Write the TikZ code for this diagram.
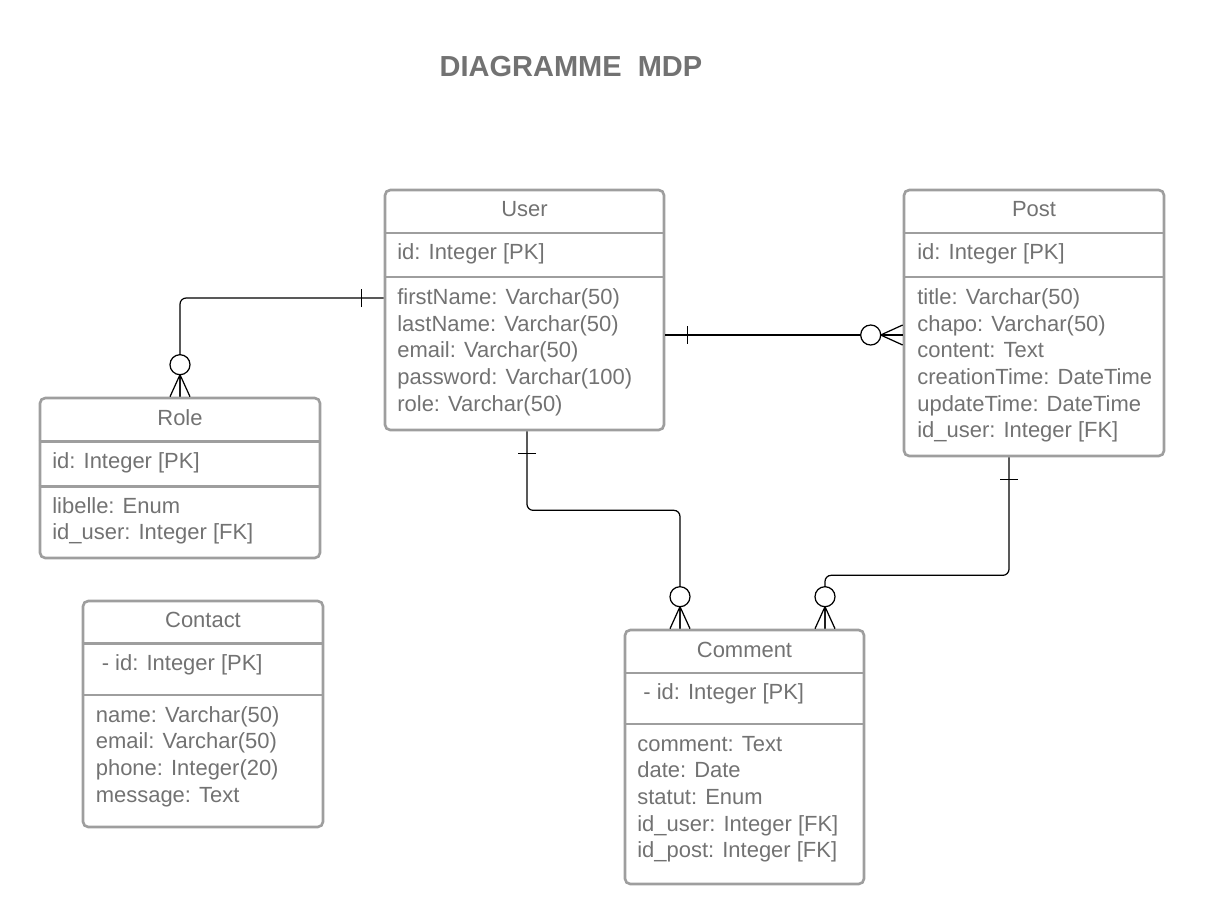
\documentclass[tikz,border=0pt]{standalone}
\usepackage{fontspec}
\setmainfont{Liberation Sans}

\definecolor{boxgray}{HTML}{9E9E9E}
\definecolor{txtgray}{HTML}{727272}

\tikzset{
  table/.style={draw=boxgray, line width=1.5pt, rounded corners=3pt, inner sep=0pt},
  rule/.style={draw=boxgray, line width=1.5pt},
  field/.style={anchor=base west, inner sep=0pt, text=txtgray, font=\fontsize{12.5}{15}\selectfont},
  head/.style={anchor=base, inner sep=0pt, text=txtgray, font=\fontsize{12.5}{15}\selectfont},
  conn/.style={line width=0.7pt, rounded corners=3.5pt},
  one/.pic={\draw[line width=0.7pt] (-9,-22) -- (9,-22);},
  many/.pic={\draw[line width=0.7pt] (-10,0) -- (0,-22) -- (10,0) (0,0) -- (0,-22);
             \draw[line width=0.7pt, fill=white] (0,-32) circle (5.7pt);}
}

\begin{document}
\begin{tikzpicture}[x=0.02cm, y=-0.02cm]
    \useasboundingbox (0,0) rectangle (1205,924);

    % title
    \node[anchor=base, inner sep=0pt, text=txtgray, font=\fontsize{16.5}{20}\selectfont\bfseries] (title) at (571,76) {DIAGRAMME\ \ MDP};

    % tables
    \node[table, minimum width=279*0.02cm, minimum height=240*0.02cm] (user) at (524.5,310) {};
    \node[table, minimum width=260*0.02cm, minimum height=266*0.02cm] (post) at (1034,323) {};
    \node[table, minimum width=280*0.02cm, minimum height=160*0.02cm] (role) at (180,478) {};
    \node[table, minimum width=240*0.02cm, minimum height=226*0.02cm] (contact) at (203,714) {};
    \node[table, minimum width=239*0.02cm, minimum height=254*0.02cm] (comment) at (744.5,757) {};

    \draw[rule] (user.west |- 0,233) -- (user.east |- 0,233);
    \draw[rule] (user.west |- 0,277) -- (user.east |- 0,277);
    \draw[rule] (post.west |- 0,233) -- (post.east |- 0,233);
    \draw[rule] (post.west |- 0,277) -- (post.east |- 0,277);
    \draw[rule] (role.west |- 0,441.5) -- (role.east |- 0,441.5);
    \draw[rule] (role.west |- 0,486.5) -- (role.east |- 0,486.5);
    \draw[rule] (contact.west |- 0,643.5) -- (contact.east |- 0,643.5);
    \draw[rule] (contact.west |- 0,695) -- (contact.east |- 0,695);
    \draw[rule] (comment.west |- 0,673) -- (comment.east |- 0,673);
    \draw[rule] (comment.west |- 0,724) -- (comment.east |- 0,724);

    % User
    \node[head] (user-name) at (524.5,216.5) {User};
    \node[field] (user-id) at (397,259) {id: Integer [PK]};
    \node[field] (user-a1) at (397,304.5) {firstName: Varchar(50)};
    \node[field] (user-a2) at (397,331.2) {lastName: Varchar(50)};
    \node[field] (user-a3) at (397,357.8) {email: Varchar(50)};
    \node[field] (user-a4) at (397,384.5) {password: Varchar(100)};
    \node[field] (user-a5) at (397,411.1) {role: Varchar(50)};

    % Post
    \node[head] (post-name) at (1034,216.5) {Post};
    \node[field] (post-id) at (917,259) {id: Integer [PK]};
    \node[field] (post-a1) at (917,304.5) {title: Varchar(50)};
    \node[field] (post-a2) at (917,331.2) {chapo: Varchar(50)};
    \node[field] (post-a3) at (917,357.8) {content: Text};
    \node[field] (post-a4) at (917,384.5) {creationTime: DateTime};
    \node[field] (post-a5) at (917,411.1) {updateTime: DateTime};
    \node[field] (post-a6) at (917,437.8) {id\_user: Integer [FK]};

    % Role
    \node[head] (role-name) at (180,425) {Role};
    \node[field] (role-id) at (52,468) {id: Integer [PK]};
    \node[field] (role-a1) at (52,513) {libelle: Enum};
    \node[field] (role-a2) at (52,539.7) {id\_user: Integer [FK]};

    % Contact
    \node[head] (contact-name) at (203,627) {Contact};
    \node[field] (contact-id) at (101.5,670) {- id: Integer [PK]};
    \node[field] (contact-a1) at (95.5,722) {name: Varchar(50)};
    \node[field] (contact-a2) at (95.5,748.7) {email: Varchar(50)};
    \node[field] (contact-a3) at (95.5,775.3) {phone: Integer(20)};
    \node[field] (contact-a4) at (95.5,802) {message: Text};

    % Comment
    \node[head] (comment-name) at (744.5,657) {Comment};
    \node[field] (comment-id) at (643,699.7) {- id: Integer [PK]};
    \node[field] (comment-a1) at (637,751) {comment: Text};
    \node[field] (comment-a2) at (637,777.7) {date: Date};
    \node[field] (comment-a3) at (637,804.3) {statut: Enum};
    \node[field] (comment-a4) at (637,831) {id\_user: Integer [FK]};
    \node[field] (comment-a5) at (637,857.6) {id\_post: Integer [FK]};

    % relations
    \draw[conn] (user.west |- 0,298) -| (role.north);
    \pic[rotate=90] at (user.west |- 0,298) {one};
    \pic at (role.north) {many};

    \draw[conn] (user.east |- 0,335) -- (post.west |- 0,335);
    \pic[rotate=-90] at (user.east |- 0,335) {one};
    \pic[rotate=90] at (post.west |- 0,335) {many};

    \draw[conn] (user.south -| 527,0) -- ++(0,79) -| (comment.north -| 680,0);
    \pic[rotate=180] at (user.south -| 527,0) {one};
    \pic at (comment.north -| 680,0) {many};

    \draw[conn] (post.south -| 1009,0) -- ++(0,118) -| (comment.north -| 825,0);
    \pic[rotate=180] at (post.south -| 1009,0) {one};
    \pic at (comment.north -| 825,0) {many};

\end{tikzpicture}
\end{document}
